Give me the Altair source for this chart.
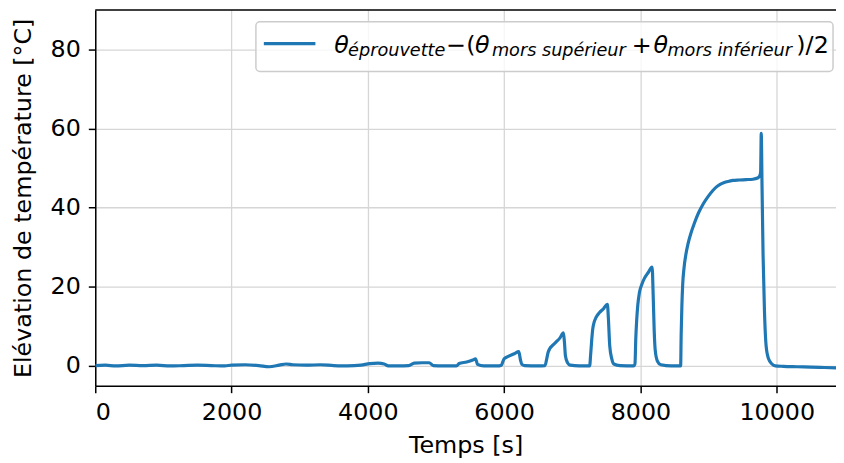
import altair as alt
import pandas as pd

# ---- data ----
time_s = [0, 150, 300, 500, 700, 900, 1100, 1300, 1500, 1700, 1900, 2000, 2200, 2400, 2550,
          2700, 2800, 2900, 3100, 3300, 3500, 3700, 3900, 4030, 4150, 4240, 4300, 4450,
          4600, 4680, 4800, 4900, 4960, 5100, 5300, 5340, 5450, 5540, 5580, 5610, 5700,
          5900, 5960, 5980, 6000, 6060, 6150, 6215, 6240, 6260, 6300, 6500,
          6600, 6625, 6645, 6670, 6700, 6760, 6820, 6870, 6885, 6900, 6930, 6970, 7100,
          7255, 7270, 7285, 7300, 7320, 7350, 7400, 7460, 7515, 7530, 7550, 7580, 7610, 7700,
          7900, 7920, 7932, 7945, 7962, 7985, 8020, 8060, 8110, 8172, 8187, 8202, 8217, 8250,
          8300, 8450, 8590, 8598, 8608, 8620, 8640, 8665, 8700, 8740, 8790, 8850, 8923, 9000,
          9060, 9112, 9170, 9230, 9300, 9360, 9450, 9550, 9650, 9720, 9750, 9764, 9773,
          9785, 9800, 9820, 9845, 9880, 9930, 9980, 10100, 10300, 10500, 10700, 10870]
delta_temp = [0.1, 0.2, 0.0, 0.2, 0.1, 0.2, 0.0, 0.1, 0.2, 0.1, 0.0, 0.2, 0.3, 0.1, -0.2,
              0.2, 0.5, 0.3, 0.2, 0.3, 0.1, 0.0, 0.2, 0.6, 0.7, 0.5, 0.0, 0.0,
              0.1, 0.7, 0.8, 0.8, 0.1, 0.0, 0.0, 0.6, 1.0, 1.5, 1.8, 0.4, 0.0,
              0.0, 0.2, 1.0, 1.8, 2.4, 3.1, 3.6, 1.5, 0.4, 0.1, 0.0,
              0.1, 1.8, 3.4, 4.4, 5.0, 6.0, 7.1, 8.4, 6.0, 2.5, 0.8, 0.2, 0.0,
              0.0, 3.0, 6.5, 9.3, 11.0, 12.3, 13.5, 14.5, 15.6, 12.0, 5.0, 1.8, 0.5, 0.1,
              0.0, 0.5, 7.0, 11.5, 15.5, 18.5, 20.6, 22.2, 23.5, 25.0, 18.0, 9.0, 4.0, 1.2,
              0.3, 0.0, 0.0, 8.0, 15.0, 20.5, 24.8, 28.0, 31.0, 33.5, 36.0, 38.6, 41.0, 43.0,
              44.3, 45.2, 45.9, 46.4, 46.7, 46.9, 47.0, 47.1, 47.2, 47.5, 48.0, 49.0, 58.8,
              45.0, 28.0, 14.0, 5.0, 1.8, 0.5, 0.0, -0.1, -0.2, -0.3, -0.4, -0.5]

x_ticks = [0, 2000, 4000, 6000, 8000, 10000]
y_ticks = [0, 20, 40, 60, 80]
x_title = "Temps [s]"
y_title = "Elévation de température [°C]"
legend_texts = ["θ", "éprouvette", "−", "(", "θ", "mors supérieur", "+", "θ",
                "mors inférieur", ")/2"]

df = pd.DataFrame({"t": time_s, "dT": delta_temp})

W, H = 747, 379
FONT = "DejaVu Sans"
BLUE = "#1f77b4"
LW = 3.2

line = alt.Chart(df).mark_line(color=BLUE, strokeWidth=LW, clip=True,
                               interpolate="monotone").encode(
    x=alt.X("t:Q", scale=alt.Scale(domain=[0, 10870], nice=False, zero=False),
            axis=alt.Axis(values=x_ticks, title=x_title, format="d",
                          labelPadding=8, titlePadding=9)),
    y=alt.Y("dT:Q", scale=alt.Scale(domain=[-5, 90], nice=False, zero=False),
            axis=alt.Axis(values=y_ticks, title=y_title, format="d",
                          labelPadding=8, titlePadding=15)),
)

top_spine = alt.Chart().mark_rule(color="black", strokeWidth=1.5).encode(
    x=alt.value(0), x2=alt.value(W), y=alt.value(0)
)

legend_box = alt.Chart().mark_rect(
    fill="white", fillOpacity=0.8, stroke="#cccccc", strokeWidth=1.5, cornerRadius=4
).encode(x=alt.value(162), x2=alt.value(744), y=alt.value(12), y2=alt.value(62))

legend_line = alt.Chart().mark_rule(color=BLUE, strokeWidth=LW).encode(
    x=alt.value(170), x2=alt.value(222), y=alt.value(34)
)

# (x, baseline y, size, italic) for each legend text piece
piece_style = [
    (241, 43, 24, True),
    (255, 46, 17.8, True),
    (354, 43, 24, False),
    (374, 43, 24, False),
    (383, 43, 24, True),
    (400, 46, 17.8, True),
    (541, 43, 24, False),
    (563, 43, 24, True),
    (577, 46, 17.8, True),
    (707, 43, 24, False),
]

texts = []
for txt, (px, py, fs, it) in zip(legend_texts, piece_style):
    texts.append(
        alt.Chart().mark_text(
            align="left", baseline="alphabetic", font=FONT, fontSize=fs,
            fontStyle="italic" if it else "normal", color="black"
        ).encode(x=alt.value(px), y=alt.value(py), text=alt.value(txt))
    )

chart = alt.layer(line, top_spine, legend_box, legend_line, *texts).properties(
    width=W, height=H,
    autosize=alt.AutoSizeParams(type="none"),
    padding={"left": 88, "top": 0, "right": 0, "bottom": 76},
).configure_view(stroke=None).configure_axis(
    domainColor="black", domainWidth=1.5, tickColor="black", tickWidth=1.5, tickSize=7,
    labelFont=FONT, labelFontSize=24, labelColor="black",
    titleFont=FONT, titleFontSize=24, titleFontWeight="normal", titleColor="black",
    gridColor="#d6d6d6", gridWidth=1.3,
)

chart.save("out.html", embed_options={"renderer": "svg", "actions": False})
